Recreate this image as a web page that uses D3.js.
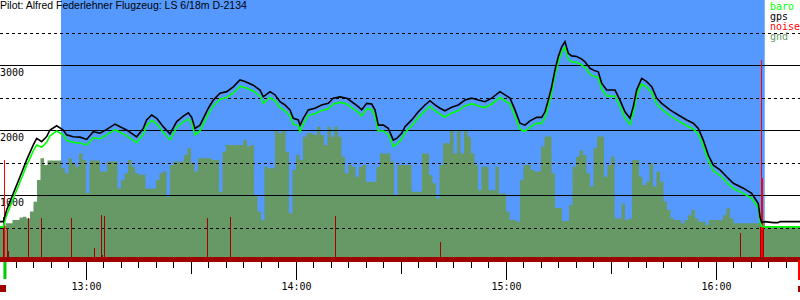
<!DOCTYPE html>
<html>
<head>
<meta charset="utf-8">
<script src="https://cdn.jsdelivr.net/npm/d3@7"></script>
<style>
body { margin: 0; background: #fff; }
svg { display: block; }
</style>
</head>
<body>
<svg width="800" height="300"></svg>
<script>
const title = 'Pilot: Alfred Federlehner Flugzeug: LS 6/18m D-2134';
const timeExtent = ['12:35:26', '16:24:00'];
const taskWindow = ['12:52:51', '16:13:55'];
const solidGrid = [1000, 2000, 3000];
const dashGrid = [500, 1500, 2500, 3500];
const altLabels = [1000, 2000, 3000];
const legendNames = ['baro', 'gps', 'noise', 'gnd'];
const legendColors = ['#00ff00', '#000000', '#ff0000', '#669966'];
const takeoff = '12:36:51';
const logEnd = '16:23:34';

// gps / baro fixes (m)
const fixTimes = [
  '12:35:26','12:36:22','12:37:20','12:39:14','12:41:09','12:43:03','12:44:57','12:45:55','12:47:20','12:48:46',
  '12:49:43','12:51:38','12:53:31','12:54:28','12:56:22','12:58:17','13:00:12','13:02:05','13:04:00','13:05:55',
  '13:08:17','13:09:43','13:11:38','13:14:29','13:16:22','13:17:20','13:18:46','13:20:12','13:22:05','13:24:00',
  '13:25:55','13:27:48','13:29:14','13:30:12','13:31:09','13:32:34','13:34:57','13:36:22','13:38:17','13:40:12',
  '13:42:05','13:44:00','13:45:26','13:47:48','13:49:43','13:50:40','13:52:34','13:54:00','13:55:26','13:56:51',
  '13:58:17','13:59:14','14:00:40','14:01:09','14:02:05','14:03:31','14:05:26','14:07:20','14:09:14','14:10:40',
  '14:12:34','14:14:29','14:15:55','14:17:48','14:18:46','14:20:12','14:21:38','14:22:34','14:23:31','14:24:57',
  '14:26:22','14:27:48','14:28:46','14:30:12','14:31:09','14:33:03','14:34:57','14:36:51','14:38:17','14:39:43',
  '14:41:09','14:42:34','14:44:29','14:46:22','14:48:17','14:50:12','14:52:05','14:54:00','14:55:55','14:58:17',
  '14:59:43','15:01:09','15:02:34','15:04:00','15:05:26','15:06:51','15:08:46','15:10:12','15:11:09','15:12:05',
  '15:13:03','15:14:00','15:14:57','15:15:55','15:16:51','15:17:48','15:18:46','15:20:12','15:21:38','15:22:34',
  '15:24:00','15:25:26','15:26:22','15:27:20','15:28:46','15:31:09','15:32:34','15:34:00','15:35:26','15:36:22',
  '15:37:20','15:38:46','15:40:12','15:41:38','15:43:03','15:44:29','15:46:51','15:49:14','15:51:38','15:53:31',
  '15:54:57','15:56:22','15:57:48','15:59:14','16:01:09','16:03:03','16:04:57','16:07:48','16:10:12','16:12:05',
  '16:12:34','16:13:03','16:14:00','16:16:22','16:17:43','16:18:17','16:24:00'
];
const gps = [
  590,590,770,1025,1280,1540,1770,1870,1820,1900,
  2000,2065,2000,1925,1895,1890,1855,1975,1950,2010,
  2090,2050,2000,1895,2025,2155,2230,2180,2050,1940,
  2130,2215,2265,2195,2025,2075,2335,2460,2565,2590,
  2665,2770,2745,2690,2615,2510,2590,2540,2435,2385,
  2310,2180,2155,2075,2180,2310,2335,2385,2410,2490,
  2510,2490,2435,2360,2310,2410,2400,2310,2075,2075,
  2025,1845,1870,1950,2050,2155,2280,2385,2450,2385,
  2335,2295,2350,2385,2460,2490,2460,2435,2490,2590,
  2540,2490,2310,2105,2075,2140,2195,2195,2280,2460,
  2665,2925,3130,3280,3360,3180,3140,3130,3090,3050,
  2950,2910,2895,2720,2615,2615,2460,2280,2180,2360,
  2615,2795,2745,2665,2490,2410,2310,2230,2155,2105,
  2025,1845,1615,1460,1385,1280,1180,1105,1025,870,
  665,575,590,575,575,590,590
];
const baro = [
  510,510,690,945,1200,1455,1680,1770,1735,1810,
  1910,1985,1920,1840,1810,1800,1770,1880,1865,1925,
  2005,1965,1910,1805,1935,2065,2150,2095,1960,1850,
  2040,2125,2170,2110,1925,1985,2245,2370,2475,2500,
  2570,2670,2655,2600,2520,2410,2500,2450,2345,2295,
  2220,2090,2065,1975,2090,2225,2250,2300,2325,2400,
  2425,2400,2345,2270,2215,2325,2315,2215,1985,1985,
  1930,1750,1780,1860,1960,2065,2190,2295,2365,2300,
  2245,2200,2260,2295,2370,2405,2370,2345,2400,2500,
  2450,2400,2215,2010,1980,2045,2105,2100,2185,2370,
  2575,2840,3045,3195,3275,3090,3050,3040,3000,2960,
  2860,2820,2805,2630,2525,2520,2365,2185,2085,2270,
  2525,2710,2660,2575,2400,2320,2220,2140,2065,2015,
  1935,1755,1530,1375,1300,1195,1100,1025,950,800,
  600,520,510,510,510,510,510
];

// ground elevation (m), one value per minute from gndStart
const gndStart = '12:35:00';
const gnd = [
  525,525,565,565,615,615,655,665,640,745,
  895,1230,1565,1460,1530,1530,1530,1530,1410,1335,
  1565,1485,1435,1640,1540,1030,1530,1530,1530,1360,
  1360,1515,1515,1515,1100,1230,1335,1540,1435,1335,
  1310,1310,1100,1100,1100,1230,1335,1360,975,1460,
  1515,1515,1515,1615,1720,1490,1360,1565,1565,1565,
  1565,1540,1540,1050,1665,1770,1770,1770,1770,1770,
  1845,1745,1770,1000,745,615,1435,1410,1410,2000,
  1950,2000,1665,720,1385,1615,1540,1895,1950,1950,
  1925,2050,1925,1770,2050,1895,2050,1895,1590,1335,
  1460,1435,1280,1435,1460,1205,1205,1205,1435,1640,
  1640,1640,1515,1000,1460,1460,1460,1460,1050,1050,
  1050,1640,1640,1305,1180,950,1460,1795,1795,2000,
  1640,2000,1640,2000,1895,1640,1460,1075,1435,1435,
  1075,1075,1435,1025,1025,745,615,615,590,1230,
  1460,1460,1385,1360,1360,1745,1900,1900,1335,800,
  795,600,600,845,1435,1590,1690,1615,1335,1130,
  1720,1900,1900,1280,1460,1590,640,640,870,615,
  640,1540,1540,1280,1155,1205,1485,1130,1360,1205,
  900,770,640,615,615,565,615,690,770,640,
  590,590,540,615,615,615,615,690,795,640,
  565,565,565,565,565,565,565,565,565,525,
  525,525,525,525,525,525,525,525,525,525
];

// engine noise level (0..1000)
const noiseTimes = [
  '12:36:17','12:36:40','12:37:31','12:37:43','12:43:31','12:47:14','12:55:48','13:02:22','13:04:22','13:04:34',
  '13:05:14','13:34:29','13:41:14','14:11:14','14:41:14','16:06:56','16:12:34','16:12:51','16:13:09','16:13:26'
];
const noise = [
  157,377,113,23,151,151,151,34,163,8,
  160,151,154,160,60,92,118,767,307,118
];

const parse = d3.timeParse('%H:%M:%S');
const svg = d3.select('svg');

const x = d3.scaleTime().domain(timeExtent.map(parse)).range([0, 800]);
const y = d3.scaleLinear().domain([0, 4000]).range([260, 0]);
const yNoise = d3.scaleLinear().domain([0, 1000]).range([257, 0]);

const fixes = fixTimes.map((t, i) => ({t: parse(t), gps: gps[i], baro: baro[i]}));
const g0 = parse(gndStart);
const ground = gnd.map((v, i) => ({t: d3.timeMinute.offset(g0, i), v}));
const noiseData = noiseTimes.map((t, i) => ({t: parse(t), v: noise[i]}));

// task window
svg.append('rect')
  .attr('x', x(parse(taskWindow[0])))
  .attr('y', 0)
  .attr('width', x(parse(taskWindow[1])) - x(parse(taskWindow[0])))
  .attr('height', 257)
  .attr('fill', '#5599ff');

// ground
svg.append('path')
  .datum(ground)
  .attr('fill', '#669966')
  .attr('d', d3.area().x(d => x(d.t)).y0(257).y1(d => y(d.v)).curve(d3.curveStepAfter));

// grid
svg.selectAll('.solid')
  .data(solidGrid)
  .join('line')
  .attr('x1', 0).attr('x2', 800)
  .attr('y1', d => Math.round(y(d)) + 0.5)
  .attr('y2', d => Math.round(y(d)) + 0.5)
  .attr('stroke', '#000')
  .attr('shape-rendering', 'crispEdges');

svg.selectAll('.dash')
  .data(dashGrid)
  .join('line')
  .attr('x1', 0).attr('x2', 800)
  .attr('y1', d => Math.round(y(d)) + 0.5)
  .attr('y2', d => Math.round(y(d)) + 0.5)
  .attr('stroke', '#000')
  .attr('stroke-dasharray', '3,3')
  .attr('shape-rendering', 'crispEdges');

// altitude labels
svg.selectAll('.alt')
  .data(altLabels)
  .join('text')
  .attr('x', 0)
  .attr('y', d => y(d) + 11)
  .style('font-family', 'DejaVu Sans Mono')
  .style('font-size', '10px')
  .text(d => d);

// noise
svg.selectAll('.noise')
  .data(noiseData.slice().sort((a, b) => b.v - a.v))
  .join('line')
  .attr('x1', d => Math.round(x(d.t)) + 0.5)
  .attr('x2', d => Math.round(x(d.t)) + 0.5)
  .attr('y1', 257)
  .attr('y2', d => yNoise(d.v))
  .attr('stroke', d => d.v >= 300 ? '#ff0000' : '#a00000')
  .attr('shape-rendering', 'crispEdges');

// baro and gps
svg.append('path')
  .datum(fixes)
  .attr('fill', 'none')
  .attr('stroke', '#00ff00')
  .attr('stroke-width', 1.6)
  .attr('d', d3.line().x(d => x(d.t)).y(d => y(d.baro)));

svg.append('path')
  .datum(fixes)
  .attr('fill', 'none')
  .attr('stroke', '#000')
  .attr('stroke-width', 1.6)
  .attr('d', d3.line().x(d => x(d.t)).y(d => y(d.gps)));

// time axis
svg.append('rect')
  .attr('x', 0).attr('y', 257)
  .attr('width', 800).attr('height', 5)
  .attr('fill', '#a00000');

const axisG = svg.append('g').attr('transform', 'translate(0,262)');

axisG.append('g')
  .call(d3.axisBottom(x).ticks(d3.timeMinute.every(5)).tickSize(6).tickFormat(''))
  .call(g => g.select('.domain').remove());

axisG.append('g')
  .call(d3.axisBottom(x).ticks(d3.timeMinute.every(30)).tickSize(12).tickFormat(''))
  .call(g => g.select('.domain').remove());

axisG.append('g')
  .call(d3.axisBottom(x).ticks(d3.timeHour.every(1)).tickSize(18).tickFormat(d3.timeFormat('%H:%M')))
  .call(g => g.select('.domain').remove())
  .call(g => g.selectAll('text')
    .attr('y', 28).attr('dy', null)
    .style('font-family', 'DejaVu Sans Mono')
    .style('font-size', '10px')
    .attr('fill', '#000'));

axisG.selectAll('line').attr('stroke', '#000').attr('shape-rendering', 'crispEdges');

// start / end marks
svg.append('rect')
  .attr('x', x(parse(takeoff)) - 1.5).attr('y', 262)
  .attr('width', 3).attr('height', 17)
  .attr('fill', '#00cc00');
svg.append('rect')
  .attr('x', x(parse(timeExtent[0]))).attr('y', 285)
  .attr('width', 6).attr('height', 7)
  .attr('fill', '#a00000');
svg.append('rect')
  .attr('x', x(parse(logEnd)) - 0.5).attr('y', 260)
  .attr('width', 2).attr('height', 20)
  .attr('fill', '#ff0000');
svg.append('rect')
  .attr('x', x(parse(logEnd)) - 0.5).attr('y', 286)
  .attr('width', 2).attr('height', 6)
  .attr('fill', '#a00000');

// title
svg.append('text')
  .attr('x', 0).attr('y', 9)
  .style('font-family', 'Liberation Sans')
  .style('font-size', '10.5px')
  .text(title);

// legend
svg.selectAll('.legend')
  .data(legendNames)
  .join('text')
  .attr('x', 770)
  .attr('y', (d, i) => 10 + i * 10)
  .attr('fill', (d, i) => legendColors[i])
  .style('font-family', 'DejaVu Sans Mono')
  .style('font-size', '10px')
  .text(d => d);
</script>
</body>
</html>
